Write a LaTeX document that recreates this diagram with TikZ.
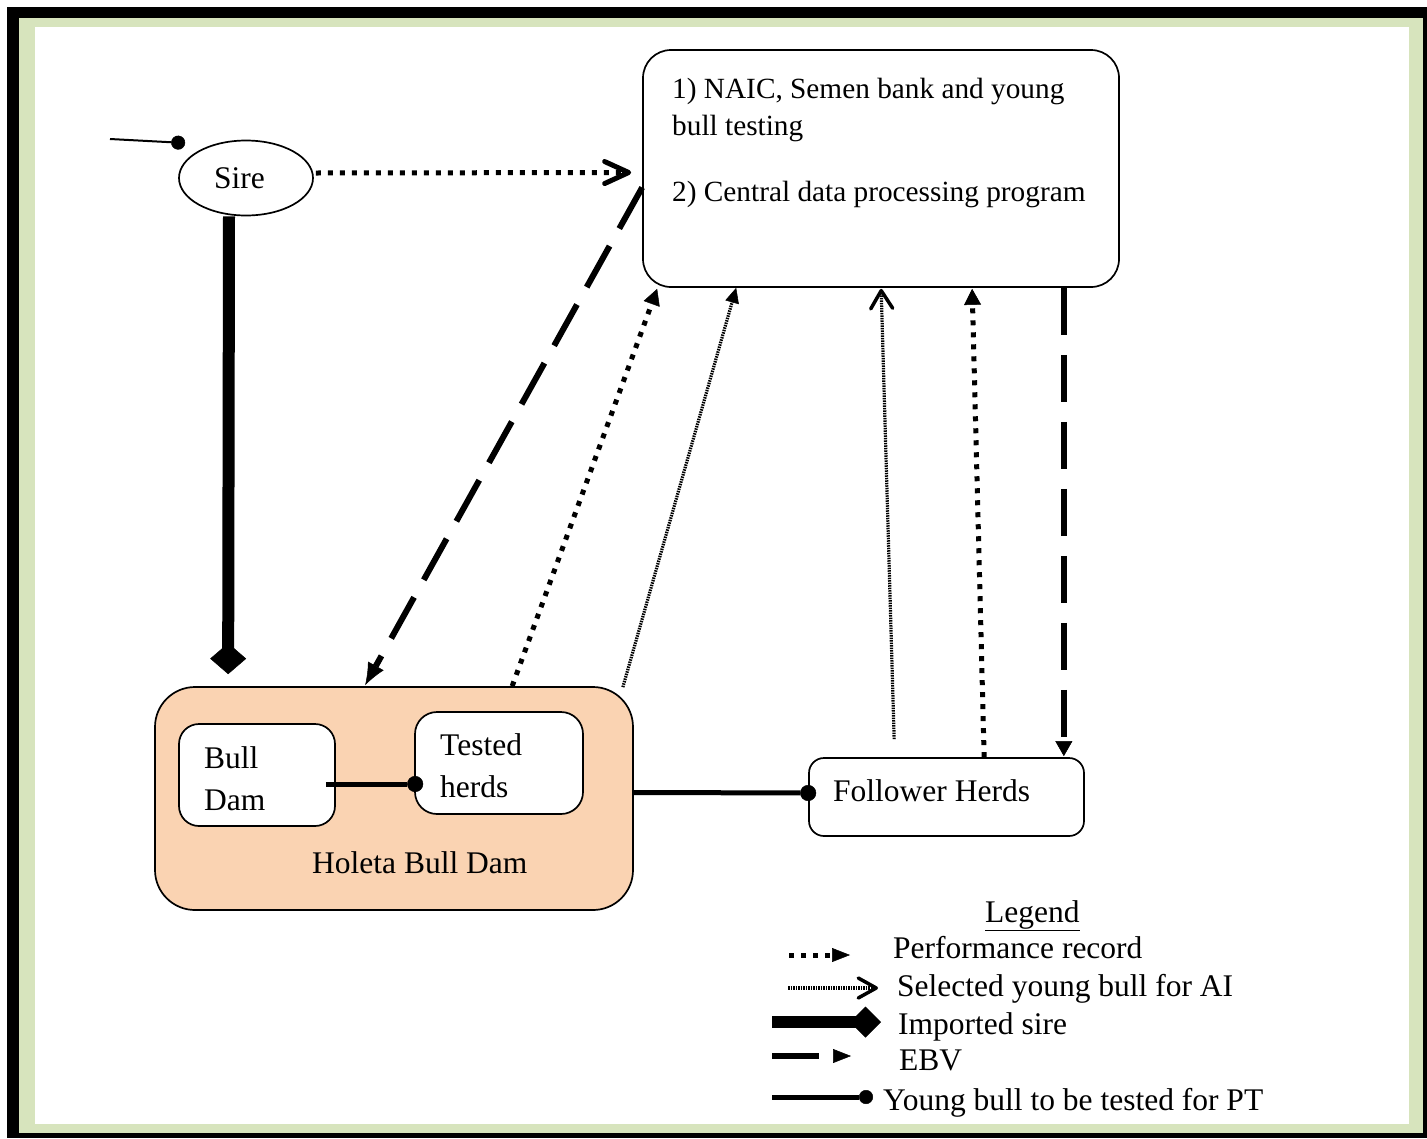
\documentclass[tikz,border=0pt]{standalone}
\usepackage{fontspec}
\setmainfont{Liberation Serif}
\usetikzlibrary{arrows.meta,calc,shapes.geometric}
\definecolor{pagegreen}{HTML}{D7E4BD}
\definecolor{peach}{HTML}{FAD3B2}
\begin{document}
\begin{tikzpicture}[x=1pt,y=-1pt,
  every node/.style={font=\fontsize{31.5}{42}\selectfont},
  txt/.style={anchor=base west, inner sep=0pt},
  smalltxt/.style={anchor=base west, inner sep=0pt, font=\fontsize{29.3}{38}\selectfont},
  box/.style={draw, line width=1.7pt, inner sep=0pt},
  perf/.style={line width=5pt, dash pattern=on 5pt off 7pt},
  sel/.style={line width=3.2pt, dash pattern=on 1.5pt off 1pt},
  ebv/.style={line width=6pt, dash pattern=on 47pt off 20pt},
  young/.style={line width=5pt, -{Circle[length=16pt, line width=0.5pt]}},
  imported/.style={line width=12pt, -{Diamond[length=31pt, width=36pt, line width=0.5pt]}},
  perftip/.style={-{Triangle[length=16pt, width=17pt, line width=0.5pt]}},
  ebvtip/.style={-{Triangle[length=15pt, width=17pt, line width=0.5pt]}},
  barbtip/.style 2 args={-{Straight Barb[length=#1, width=22pt, round, line width=#2]}},
]
\path[use as bounding box] (0,0) rectangle (1427,1138);
\fill[black] (7,7) rectangle (1427,1138);
\fill[pagegreen] (19,18) rectangle (1423,1133);
\fill[white] (35,27) rectangle (1409,1124);

% main boxes
\node[box, rounded corners=28pt, fill=white, minimum width=476pt, minimum height=237pt] (center) at (881,168.5) {};
\node[smalltxt] (t1) at (672,98) {1) NAIC, Semen bank and young};
\node[smalltxt] (t2) at (672,135) {bull testing};
\node[smalltxt] (t3) at (672,201) {2) Central data processing program};

\node[draw, ellipse, line width=1.7pt, fill=white, minimum width=134pt, minimum height=75pt, inner sep=0pt] (sire) at (246,178) {};
\node[txt] (siretext) at (214,188) {Sire};

\node[box, rounded corners=40pt, fill=peach, minimum width=478pt, minimum height=223pt] (holeta) at (394,798.5) {};
\node[txt] (holetatext) at (312,873) {Holeta Bull Dam};

\node[box, rounded corners=20pt, fill=white, minimum width=156pt, minimum height=102pt] (bulldam) at (257,775) {};
\node[txt] (bd1) at (204,768) {Bull};
\node[txt] (bd2) at (204,810) {Dam};

\node[box, rounded corners=22pt, fill=white, minimum width=168pt, minimum height=102pt] (tested) at (499,763) {};
\node[txt] (th1) at (440,755) {Tested};
\node[txt] (th2) at (440,797) {herds};

\node[box, rounded corners=15pt, fill=white, minimum width=275pt, minimum height=78pt] (follower) at (946.5,797) {};
\node[txt] (ftext) at (833,801) {Follower Herds};

% connectors
\coordinate (sirein) at (110,139);
\draw[line width=2pt, -{Circle[length=14pt, line width=0.5pt]}] (sirein) -- ($(sire.west)+(7,-35)$);

\draw[imported] ($(sire.south)+(-17,0)$) -- ($(holeta.north west)+(74,-12)$);

\draw[perf, barbtip={24pt}{5pt}] ($(sire.east)+(2,-5)$) -- ($(center.west)+(-11,4)$);

\draw[ebv, -{Latex[length=22pt, width=18pt, line width=0.5pt]}] ($(center.west)+(0,19)$) -- ($(holeta.north west)+(211,-1)$);

\draw[perf, perftip] ($(holeta.north west)+(358,0)$) -- ($(center.south west)+(15,1)$);

\draw[sel, -{Triangle[length=15pt, width=14pt, line width=0.5pt]}] ($(holeta.north east)+(-11,1)$) -- ($(center.south west)+(94,0)$);

\draw[sel, barbtip={18pt}{3.5pt}] ($(follower.north west)+(86,-18)$) -- ($(center.south west)+(239,1)$);

\draw[perf, perftip] ($(follower.north west)+(176,0)$) -- ($(center.south west)+(330,1)$);

\draw[ebv, ebvtip] ($(center.south east)+(-56,0)$) -- ($(follower.north east)+(-21,-1)$);

\draw[young] ($(bulldam.east)+(-10,9)$) -- ($(tested.west)+(9,21)$);
\draw[young] ($(holeta.east)+(0,-6)$) -- ($(follower.west)+(8,-4)$);

% legend
\node[txt] (legend) at (985,922) {\underline{Legend}};
\coordinate (lpa) at (789,955); \coordinate (lpb) at (850,955);
\draw[perf, -{Triangle[length=18pt, width=14pt, line width=0.5pt]}] (lpa) -- (lpb);
\node[txt] (lperf) at (893,958) {Performance record};

\coordinate (lsa) at (788,988); \coordinate (lsb) at (878,988);
\draw[sel, -{Straight Barb[length=18pt, width=20pt, round, line width=3.5pt]}] (lsa) -- (lsb);
\node[txt] (lsel) at (897,996) {Selected young bull for AI};

\coordinate (lia) at (772,1022); \coordinate (lib) at (881,1022);
\draw[line width=12pt, -{Diamond[length=31pt, width=31pt, line width=0.5pt]}] (lia) -- (lib);
\node[txt] (limp) at (898,1034) {Imported sire};

\coordinate (lea) at (772,1056); \coordinate (leb) at (851,1056);
\draw[line width=6pt, dash pattern=on 47pt off 20pt, -{Triangle[length=18pt, width=14pt, line width=0.5pt]}] (lea) -- (leb);
\node[txt] (lebv) at (899,1070) {EBV};

\coordinate (lya) at (772,1097); \coordinate (lyb) at (873,1097);
\draw[line width=5pt, -{Circle[length=14pt, line width=0.5pt]}] (lya) -- (lyb);
\node[txt] (lyoung) at (883,1110) {Young bull to be tested for PT};
\end{tikzpicture}
\end{document}
